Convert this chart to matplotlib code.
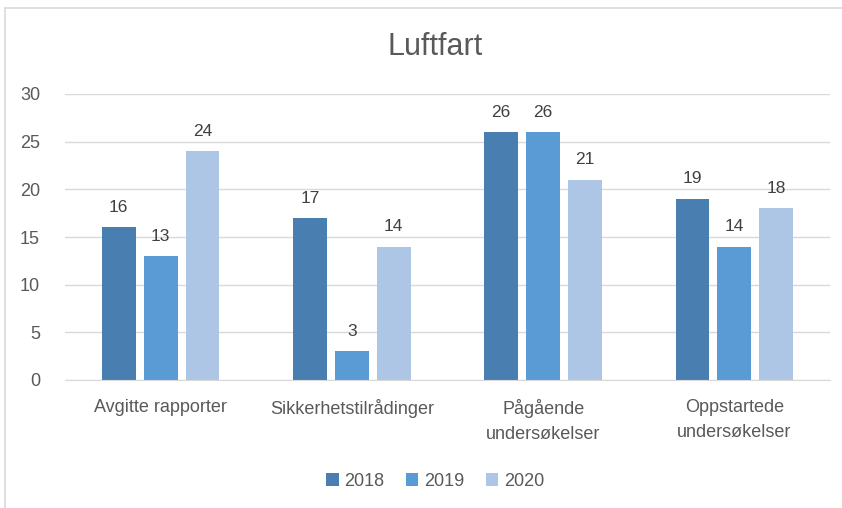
import matplotlib.pyplot as plt
import numpy as np
from matplotlib.patches import Rectangle

plt.rcParams['font.family'] = ['Liberation Sans', 'DejaVu Sans']

categories = ['Avgitte rapporter', 'Sikkerhetstilrådinger', 'Pågående\nundersøkelser', 'Oppstartede\nundersøkelser']
years = ['2018', '2019', '2020']
v2018 = [16, 17, 26, 19]
v2019 = [13, 3, 26, 14]
v2020 = [24, 14, 21, 18]
colors = ['#497EB1', '#5B9BD5', '#ADC6E5']

fig = plt.figure(figsize=(8.42, 5.08), dpi=100)
fig.patches.append(Rectangle((5/842, -0.1), 1.2, (500/508) + 0.1, transform=fig.transFigure,
                             fill=False, edgecolor='#D9D9D9', linewidth=1.2))
ax = fig.add_axes([65/842, 1 - 380/508, (830-65)/842, (380-94)/508])

x = np.arange(len(categories))
w = 0.177
step = 0.219
for i, (vals, yr) in enumerate(zip([v2018, v2019, v2020], years)):
    bars = ax.bar(x + (i - 1) * step, vals, w, color=colors[i], label=yr)
    for b, v in zip(bars, vals):
        ax.text(b.get_x() + b.get_width()/2, v + 1.3, str(v), ha='center', va='bottom',
                fontsize=12.5, color='#404040')

ax.set_xlim(-0.5, 3.5)
ax.set_ylim(0, 30)
ax.set_yticks(range(0, 31, 5))
ax.yaxis.grid(True, color='#D9D9D9', linewidth=1)
ax.set_axisbelow(True)
for s in ['top', 'right', 'left']:
    ax.spines[s].set_visible(False)
ax.spines['bottom'].set_color('#D9D9D9')
ax.tick_params(axis='both', length=0, labelsize=13, labelcolor='#595959')
ax.tick_params(axis='y', pad=18)
ax.tick_params(axis='x', pad=14)
ax.set_xticks(x)
ax.set_xticklabels(categories, linespacing=1.6)

fig.text(435/842, 1 - 47/508, 'Luftfart', ha='center', va='center', fontsize=22, color='#595959')
fig.legend(loc='center', bbox_to_anchor=(435/842, 1 - 481/508), ncol=3, frameon=False,
           fontsize=13, handlelength=0.7, handleheight=0.7, handletextpad=0.3, columnspacing=1.2,
           labelcolor='#595959')

fig.savefig('out.png', dpi=100)
